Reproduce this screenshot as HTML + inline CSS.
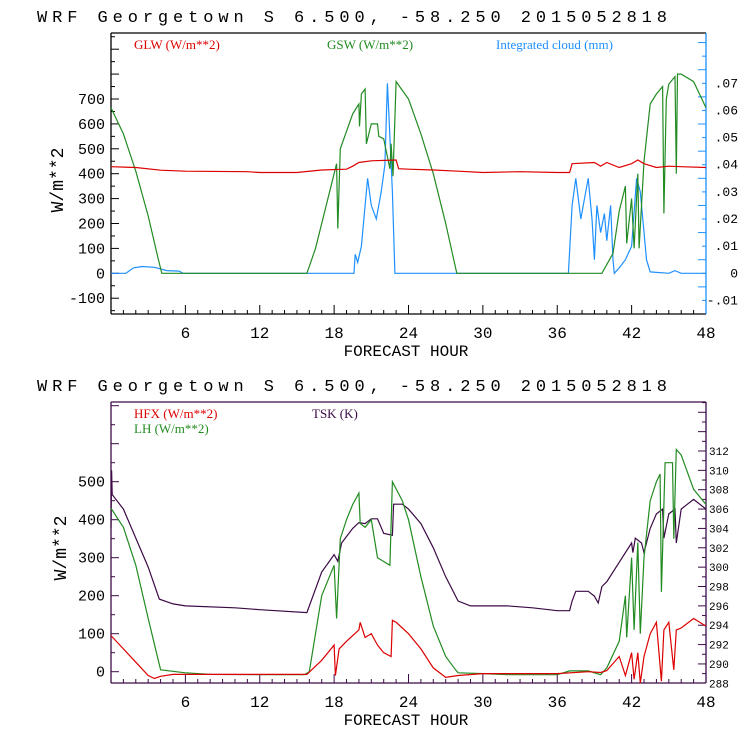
<!DOCTYPE html>
<html><head><meta charset="utf-8"><style>
html,body{margin:0;padding:0;background:#fff;}
svg{display:block;}
text{font-family:"Liberation Mono","DejaVu Sans Mono",monospace;}
.leg{font-family:"Liberation Serif",serif;font-size:13px;}
</style></head><body>
<svg id="c" width="740" height="740" viewBox="0 0 740 740"></svg>
<script>
// ---------- DATA ----------
const xTicks = [6,12,18,24,30,36,42,48];
const topLeftTicks = [-100,0,100,200,300,400,500,600,700];
const topRightTicks = [-0.01,0,0.01,0.02,0.03,0.04,0.05,0.06,0.07];
const topRightLabels = ['-.01','0','.01','.02','.03','.04','.05','.06','.07'];
const botLeftTicks = [0,100,200,300,400,500];
const botRightTicks = [288,290,292,294,296,298,300,302,304,306,308,310,312];

const glwHours = [0,2,4,6,11,12,15,17,19,19.5,20,21,23,23.2,24,26,28,30,33,36,37,37.2,39,39.5,40,41,42,42.5,43,44,45,46,48];
const glwVals  = [428,425,414,410,408,405,405,415,418,430,445,452,455,420,418,415,410,405,408,405,405,440,445,430,445,425,440,455,440,425,430,428,425];

const gswHours = [0,1,2,3,3.8,4.1,15.8,16.5,17.5,18.2,18.3,18.5,19.5,20,20.05,20.2,20.5,20.6,21,21.5,21.6,22,22.5,22.6,22.75,23,24,25,26,27,27.9,39.6,40.5,41,41.5,41.6,42,42.2,42.5,42.6,43,43.5,44,44.5,44.6,44.8,45,45.5,45.6,45.7,46,47,48];
const gswVals  = [665,560,410,230,60,0,0,100,300,440,180,500,640,680,590,720,740,520,600,600,550,540,420,520,390,770,700,560,400,200,0,0,80,250,350,120,300,100,400,100,450,680,720,750,240,700,760,790,400,800,800,770,665];

const cloudHours = [0,1.2,1.8,2.5,3.5,4.5,5.5,5.8,19.6,19.7,19.9,20.2,20.5,20.7,21,21.4,21.8,22.1,22.3,22.4,22.7,22.9,36.9,37.2,37.5,37.9,38.5,38.8,39,39.2,39.5,39.8,40,40.3,40.5,40.6,41,41.5,42,42.4,42.7,42.9,43.2,43.5,45,45.5,46,48];
const cloudVals  = [0,0,0.002,0.0025,0.0022,0.001,0.0008,0,0,0.007,0.004,0.01,0.025,0.035,0.025,0.02,0.03,0.04,0.07,0.06,0.03,0,0,0.025,0.035,0.02,0.035,0.02,0.005,0.025,0.015,0.022,0.012,0.025,0.005,0,0.002,0.005,0.01,0.035,0.03,0.02,0.005,0.0005,0,0.001,0,0];

const tskHours = [0,0.05,0.1,1,2,3,3.9,5,6,10,12,15.8,17,18,18.3,18.6,19.5,20,20.5,21,21.5,22,22.7,22.8,23.5,24,25,26,27,28,29,30,32,34,36,37,37.2,37.5,38.5,39,39.3,39.6,40,41,42,42.1,42.3,42.8,43,43.5,44,44.5,44.6,45,45.5,45.6,46,46.5,47,48];
const tskVals  = [304,310,307.5,306,303,300,296.7,296.2,296,295.8,295.6,295.3,299.5,301.3,300.6,302.5,304,304.6,304.5,305,305,303.5,303.3,306.5,306.5,306,304.5,302,299,296.5,296,296,296,295.8,295.5,295.5,296.5,297.5,297.5,297,296.3,298,298.5,300.5,302.5,301.5,303,302.5,301.5,304,305.5,306,303,305.5,306,302.5,306,306.5,307,306];

const lhHours = [0,1,2,3,4,6,8,12,15.6,16,17,18,18.2,18.5,19,19.5,20,20.1,20.5,21,21.5,22,22.5,22.7,23.5,24,25,26,27,27.8,28,30,32,36,37,38.5,39.5,40,41,41.5,41.6,42,42.2,42.5,42.7,43,43.5,44,44.3,44.4,44.7,45.3,45.4,45.6,46,47,48];
const lhVals  = [430,380,280,140,5,-3,-7,-8,-8,0,200,280,140,350,400,440,470,390,380,400,300,290,280,500,450,400,250,120,40,5,-3,-5,-8,-8,2,2,-8,10,80,200,90,300,110,340,100,300,450,500,520,210,550,550,350,585,570,480,440];

const hfxHours = [0,1,2,3,3.5,4,5,8,12,15.8,17,18,18.1,18.4,19,20,20.1,20.5,21,21.5,22,22.6,22.7,23,24,25,26,27,28,30,36,38.5,39.5,40,41,41.5,42,42.2,42.5,42.7,43,43.5,44,44.4,44.6,45,45.4,45.6,46,47,48];
const hfxVals  = [95,60,25,-10,-18,-12,-7,-7,-7,-7,30,70,-10,60,80,110,130,90,100,70,50,40,135,130,100,60,10,-15,-10,-5,-5,0,-2,3,40,-10,50,-20,50,-30,40,100,130,-25,110,130,5,110,115,140,120];

// ---------- DRAW ----------
const NS='http://www.w3.org/2000/svg';
const svg=document.getElementById('c');
function mk(tag,attrs,parent){const e=document.createElementNS(NS,tag);for(const k in attrs)e.setAttribute(k,attrs[k]);(parent||svg).appendChild(e);return e;}
const X0=111,X1=706;
function xs(h){return X0+(X1-X0)*h/48;}
function lin(v0,p0,v1,p1){return v=>p0+(v-v0)*(p1-p0)/(v1-v0);}
const tL=lin(0,273.3,700,99), tR=lin(0,273.3,0.07,83.3);
const bL=lin(0,671.7,500,481.7), bR=lin(288,683.3,312,451);

function series(g,hours,vals,ys,color,name){
  let d='';hours.forEach((h,i)=>{d+=(i?'L':'M')+xs(h).toFixed(1)+' '+ys(vals[i]).toFixed(1);});
  const p=mk('path',{d:d,fill:'none',stroke:color,'stroke-width':1.2},g);
  
  
}
function txt(g,x,y,s,attrs){const t=mk('text',Object.assign({x:x,y:y},attrs||{}),g);t.textContent=s;return t;}

function panel(o){
  const g=mk('g',{});
  
  
  const tt=txt(g,37,o.titleY,'WRF  Georgetown S  6.500, -58.250  2015052818',{'font-size':17,fill:'#000',textLength:630,lengthAdjust:'spacing'});
  
  
  mk('line',{x1:X0,y1:o.top,x2:X1,y2:o.top,stroke:o.frame,'stroke-width':1.3},g);
  mk('line',{x1:X0,y1:o.bot,x2:X1,y2:o.bot,stroke:o.frame,'stroke-width':1.3},g);
  mk('line',{x1:X0,y1:o.top,x2:X0,y2:o.bot,stroke:o.frame,'stroke-width':1.3},g);
  mk('line',{x1:X1,y1:o.top,x2:X1,y2:o.bot,stroke:o.rframe,'stroke-width':1.3},g);
  for(let h=1;h<48;h++){const maj=h%6==0;mk('line',{x1:xs(h),y1:o.bot,x2:xs(h),y2:o.bot-(maj?9:4),stroke:o.frame,'stroke-width':1},g);}
  xTicks.forEach(h=>{const t=txt(g,xs(h),o.bot+24,String(h),{'font-size':16,'text-anchor':'middle',fill:'#000'});
    });
  const xt=txt(g,406,o.bot+42,'FORECAST HOUR',{'font-size':16,'text-anchor':'middle',fill:'#000'});
  
  for(let v=o.lMin;v<=o.lMax;v+=50){const y=o.ly(v);if(y<o.top||y>o.bot)continue;const maj=v%100==0;
    mk('line',{x1:X0,y1:y,x2:X0+(maj?8:4),y2:y,stroke:o.frame,'stroke-width':1},g);}
  o.lTicks.forEach(v=>{const t=txt(g,105,o.ly(v)+5,String(v),{'font-size':15,'text-anchor':'end',fill:'#000'});
    });
  const yt=txt(g,0,0,'W/m**2',{'font-size':18,'text-anchor':'middle',fill:'#000',transform:'translate('+o.yTitleX+','+o.yTitleY+') rotate(-90)'});
  
  for(let i=0;i<=o.rN;i++){const v=o.rMin+i*o.rStep;const y=o.ry(v);if(y<o.top||y>o.bot)continue;const maj=i%2==0;
    mk('line',{x1:X1,y1:y,x2:X1-(maj?8:4),y2:y,stroke:o.rframe,'stroke-width':1},g);}
  o.rTicks.forEach((v,i)=>{const t=txt(g,o.rLabX,o.ry(v)+4,o.rLabels[i],{'font-size':o.rFont,fill:'#000','text-anchor':o.rAnchor});
    });
  return g;
}

const g1=panel({name:'top-panel',titleY:22,top:33,bot:314,frame:'#000',rframe:'#1e90ff',ly:tL,lMin:-150,lMax:1000,lTicks:topLeftTicks,
  yTitleX:63,yTitleY:180,ry:tR,rMin:-0.015,rStep:0.005,rN:30,rTicks:topRightTicks,rLabels:topRightLabels,rLabX:738,rAnchor:'end',rFont:13});
const g2=panel({name:'bottom-panel',titleY:391,top:402,bot:683,frame:'#3c0a46',rframe:'#3c0a46',ly:bL,lMin:-50,lMax:800,lTicks:botLeftTicks,
  yTitleX:66,yTitleY:548,ry:bR,rMin:288,rStep:1,rN:30,rTicks:botRightTicks,rLabels:botRightTicks.map(String),rLabX:709,rAnchor:'start',rFont:11});

function leg(g,x,y,s,c,n){const t=txt(g,x,y,s,{'class':'leg',fill:c});}
leg(g1,134,49,'GLW (W/m**2)','#dd0000','legend-glw');
leg(g1,327,49,'GSW (W/m**2)','#228b22','legend-gsw');
leg(g1,496,49,'Integrated cloud (mm)','#1e90ff','legend-cloud');
leg(g2,134,418,'HFX (W/m**2)','#dd0000','legend-hfx');
leg(g2,134,433,'LH  (W/m**2)','#228b22','legend-lh');
leg(g2,312,418,'TSK (K)','#3c0a46','legend-tsk');

series(g1,cloudHours,cloudVals,tR,'#1e90ff','cloud-line');
series(g1,gswHours,gswVals,tL,'#228b22','gsw-line');
series(g1,glwHours,glwVals,tL,'#dd0000','glw-line');
series(g2,tskHours,tskVals,bR,'#3c0a46','tsk-line');
series(g2,lhHours,lhVals,bL,'#228b22','lh-line');
series(g2,hfxHours,hfxVals,bL,'#dd0000','hfx-line');
</script>
</body></html>
